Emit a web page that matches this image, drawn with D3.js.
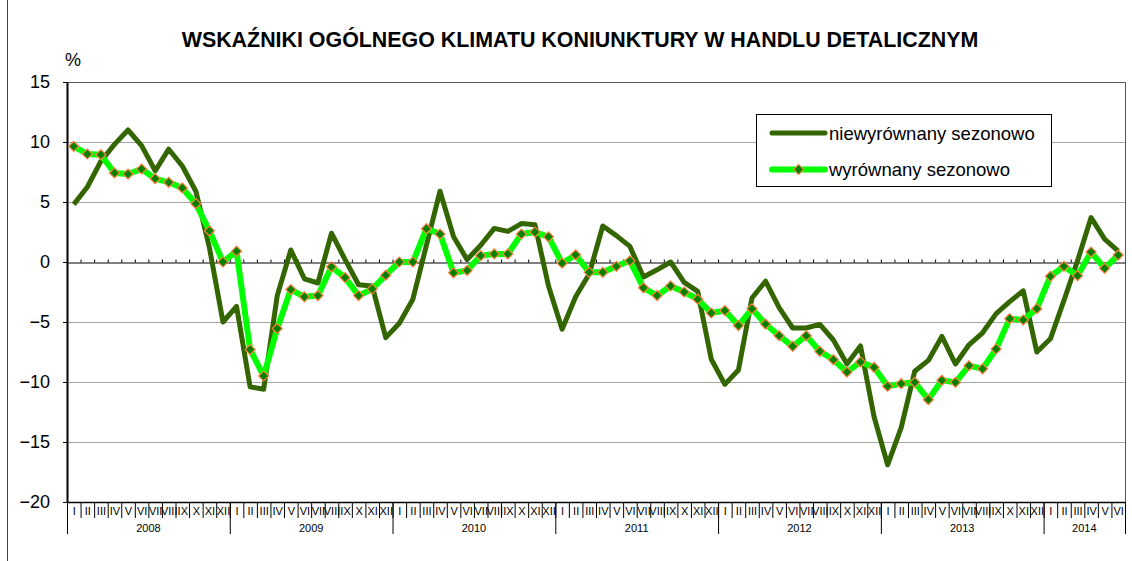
<!DOCTYPE html>
<html>
<head>
<meta charset="utf-8">
<script src="https://cdn.jsdelivr.net/npm/d3@7"></script>
<style>
  body { margin: 0; background: #fff; }
  svg { display: block; font-family: Arial, "Liberation Sans", sans-serif; }
  .grid line { stroke: #a6a6a6; }
</style>
</head>
<body>
<svg id="chart" width="1132" height="561"></svg>
<script>
// data, monthly Jan 2008 - Jun 2014
var years = ["2008", "2009", "2010", "2011", "2012", "2013", "2014"];
var months = ["I", "II", "III", "IV", "V", "VI", "VII", "VIII", "IX", "X", "XI", "XII"];
var yTicks = [15, 10, 5, 0, -5, -10, -15, -20];

var unadjusted = [
  4.8, 6.25, 8.4, 9.8, 11.0, 9.7, 7.6, 9.4, 8.0, 5.9, 1.2, -5.0,
  -3.7, -10.4, -10.6, -2.8, 1.0, -1.4, -1.75, 2.4, 0.2, -1.9, -2.0, -6.3,
  -5.1, -3.1, 1.4, 5.9, 2.1, 0.2, 1.4, 2.8, 2.55, 3.2, 3.1, -2.0,
  -5.6, -2.9, -1.0, 3.0, 2.2, 1.3, -1.25, -0.65, 0.0, -1.7, -2.45, -8.1,
  -10.2, -9.0, -3.0, -1.6, -3.8, -5.5, -5.5, -5.2, -6.5, -8.5, -7.0, -12.9,
  -16.9, -13.8, -9.1, -8.2, -6.2, -8.5, -6.9, -5.9, -4.3, -3.3, -2.4, -7.5,
  -6.4, -3.2, 0.1, 3.7, 1.9, 0.9
];
var adjusted = [
  9.64, 9.0, 8.94, 7.42, 7.33, 7.75, 6.94, 6.64, 6.17, 4.86, 2.6, 0.0,
  0.9, -7.3, -9.5, -5.55, -2.3, -2.9, -2.8, -0.4, -1.3, -2.8, -2.25, -1.1,
  0.0, 0.0, 2.78, 2.33, -0.9, -0.7, 0.53, 0.67, 0.67, 2.33, 2.5, 2.1,
  -0.1, 0.6, -0.86, -0.86, -0.36, 0.1, -2.15, -2.8, -2.0, -2.5, -3.1, -4.25,
  -4.05, -5.3, -3.9, -5.17, -6.14, -7.03, -6.14, -7.44, -8.14, -9.17, -8.33, -8.78,
  -10.36, -10.14, -10.03, -11.47, -9.86, -10.03, -8.64, -8.9, -7.25, -4.72, -4.83, -3.89,
  -1.19, -0.36, -1.14, 0.83, -0.53, 0.58
];

var darkColor = "#336600";
var lightColor = "#00ff00";
var markFill = "#008000";
var markStroke = "#ff7f3f";

var svg = d3.select("#chart");
var n = unadjusted.length;
var plotLeft = 67, plotRight = 1125, plotTop = 82, plotBottom = 502;

var x = d3.scaleLinear().domain([0, n]).range([plotLeft, plotRight]);
var y = d3.scaleLinear().domain([-20, 15]).range([plotBottom, plotTop]);

// outer frame line on the left
svg.append("line")
  .attr("x1", 7.5).attr("x2", 7.5).attr("y1", 0).attr("y2", 561)
  .attr("stroke", "#444");

// title
svg.append("text")
  .attr("x", 580).attr("y", 47)
  .attr("text-anchor", "middle")
  .attr("font-size", 21.4).attr("font-weight", "bold")
  .text("WSKAŹNIKI OGÓLNEGO KLIMATU KONIUNKTURY W HANDLU DETALICZNYM");

svg.append("text")
  .attr("x", 65).attr("y", 66)
  .attr("font-size", 18)
  .text("%");

// gridlines
svg.append("g")
  .attr("class", "grid")
  .selectAll("line")
  .data(yTicks.filter(function(d) { return d != 0 && d != -20 && d != 15; }))
  .enter().append("line")
  .attr("x1", plotLeft).attr("x2", plotRight)
  .attr("y1", function(d) { return Math.round(y(d)) + 0.5; })
  .attr("y2", function(d) { return Math.round(y(d)) + 0.5; });

// plot border top/right
svg.append("path")
  .attr("d", "M" + plotLeft + "," + (plotTop + 0.5) + "H" + (plotRight + 0.5) + "V" + plotBottom)
  .attr("fill", "none")
  .attr("stroke", "#555");

// y axis
var yAxis = svg.append("g")
  .attr("transform", "translate(" + plotLeft + ",0)")
  .call(d3.axisLeft(y).tickValues(yTicks).tickSize(4).tickSizeOuter(0).tickPadding(13));
yAxis.select(".domain").attr("stroke", "#000").attr("stroke-width", 2);
yAxis.selectAll(".tick line").attr("stroke", "#000");
yAxis.selectAll("text").attr("font-size", 18).attr("font-family", "Arial, 'Liberation Sans', sans-serif").attr("fill", "#000");

// zero line with month ticks
var zeroAxis = svg.append("g")
  .attr("transform", "translate(0," + (Math.round(y(0)) + 0.5) + ")")
  .call(d3.axisTop(x).tickValues(d3.range(1, n)).tickSize(3).tickSizeOuter(0).tickFormat(""));
zeroAxis.select(".domain").attr("stroke", "#000");
zeroAxis.selectAll(".tick line").attr("stroke", "#000");

// bottom category axis
var monthAxis = svg.append("g")
  .attr("transform", "translate(0," + plotBottom + ")")
  .call(d3.axisBottom(x).tickValues(d3.range(n).map(function(i) { return i + 0.5; }))
    .tickSize(0).tickSizeOuter(0).tickPadding(5)
    .tickFormat(function(d) { return months[Math.floor(d) % 12]; }));
monthAxis.select(".domain").attr("stroke", "#000").attr("stroke-width", 1.5);
monthAxis.selectAll("text").attr("font-size", 11).attr("font-family", "Arial, 'Liberation Sans', sans-serif").attr("fill", "#000");

var sepAxis = svg.append("g")
  .attr("transform", "translate(0," + plotBottom + ")")
  .call(d3.axisBottom(x).tickValues(d3.range(0, n + 1)).tickSize(16).tickSizeOuter(0).tickFormat(""));
sepAxis.select(".domain").remove();
sepAxis.selectAll(".tick line").attr("stroke", "#000");

var yearBreaks = d3.range(0, n, 12).concat([n]);
var yearAxis = svg.append("g")
  .attr("transform", "translate(0," + plotBottom + ")")
  .call(d3.axisBottom(x).tickValues(yearBreaks).tickSize(32).tickSizeOuter(0).tickFormat(""));
yearAxis.select(".domain").remove();
yearAxis.selectAll(".tick line").attr("stroke", "#000");

svg.append("g")
  .selectAll("text")
  .data(years)
  .enter().append("text")
  .attr("x", function(d, i) { return x((yearBreaks[i] + yearBreaks[i + 1]) / 2); })
  .attr("y", 532)
  .attr("text-anchor", "middle")
  .attr("font-size", 11)
  .text(function(d) { return d; });

// series
var line = d3.line()
  .x(function(d, i) { return x(i + 0.5); })
  .y(function(d) { return y(d); });

svg.append("path")
  .datum(unadjusted)
  .attr("d", line)
  .attr("fill", "none")
  .attr("stroke", darkColor)
  .attr("stroke-width", 5)
  .attr("stroke-linejoin", "round");

svg.append("path")
  .datum(adjusted)
  .attr("d", line)
  .attr("fill", "none")
  .attr("stroke", lightColor)
  .attr("stroke-width", 6)
  .attr("stroke-linejoin", "round");

var diamond = d3.symbol().type(d3.symbolSquare).size(50);
svg.append("g")
  .selectAll("path")
  .data(adjusted)
  .enter().append("path")
  .attr("d", diamond)
  .attr("transform", function(d, i) { return "translate(" + x(i + 0.5) + "," + y(d) + ") rotate(45)"; })
  .attr("fill", markFill)
  .attr("stroke", markStroke)
  .attr("stroke-width", 1.2);

// legend
var legend = svg.append("g");
legend.append("rect")
  .attr("x", 756.5).attr("y", 114.5).attr("width", 295).attr("height", 72)
  .attr("fill", "#fff").attr("stroke", "#000");
legend.append("line")
  .attr("x1", 772).attr("x2", 825).attr("y1", 133).attr("y2", 133)
  .attr("stroke", darkColor).attr("stroke-width", 5).attr("stroke-linecap", "round");
legend.append("text")
  .attr("x", 829).attr("y", 139.5).attr("font-size", 18.5)
  .text("niewyrównany sezonowo");
legend.append("line")
  .attr("x1", 772).attr("x2", 825).attr("y1", 169.5).attr("y2", 169.5)
  .attr("stroke", lightColor).attr("stroke-width", 6).attr("stroke-linecap", "round");
legend.append("path")
  .attr("d", diamond)
  .attr("transform", "translate(798.7,169.5) rotate(45)")
  .attr("fill", markFill).attr("stroke", markStroke).attr("stroke-width", 1.2);
legend.append("text")
  .attr("x", 829).attr("y", 176).attr("font-size", 18.5)
  .text("wyrównany sezonowo");
</script>
</body>
</html>
